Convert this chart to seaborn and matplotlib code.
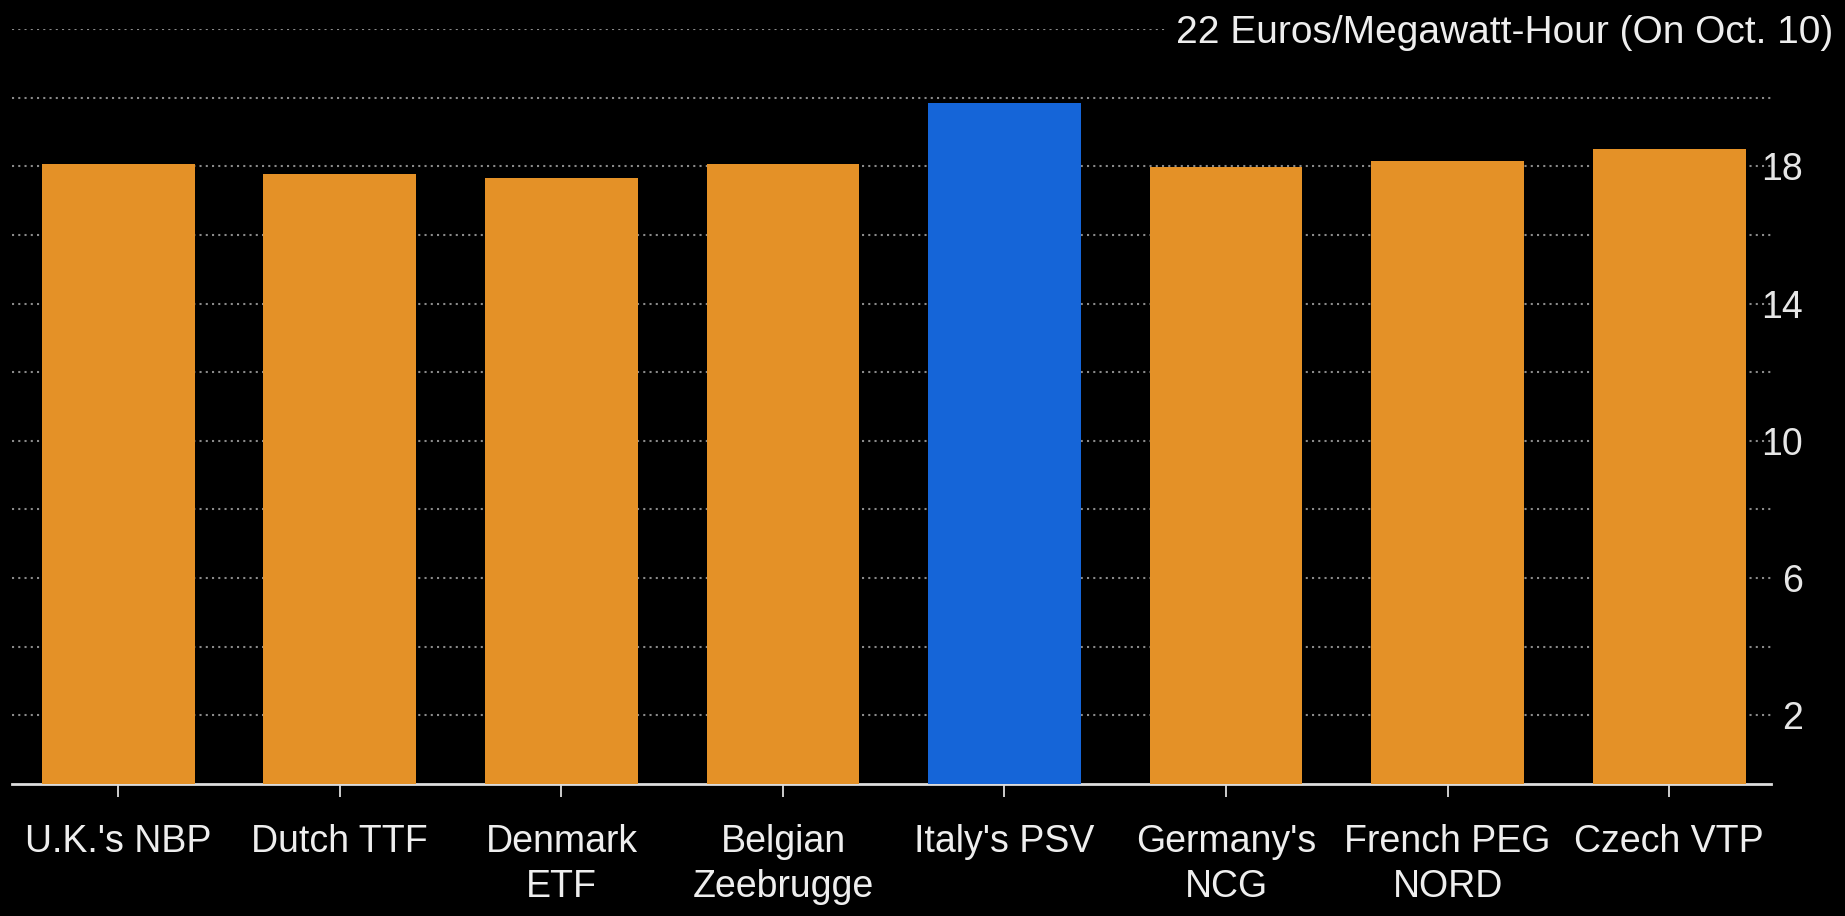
import matplotlib
matplotlib.use('Agg')
import matplotlib.pyplot as plt
import pandas as pd
import seaborn as sns

# gas hub prices, euros per MWh on Oct. 10
hubs = ["U.K.'s NBP", "Dutch TTF", "Denmark\nETF", "Belgian\nZeebrugge",
        "Italy's PSV", "Germany's\nNCG", "French PEG\nNORD", "Czech VTP"]
prices = [18.08, 17.78, 17.65, 18.07, 19.86, 17.98, 18.15, 18.5]
bar_colors = ['#E49127', '#E49127', '#E49127', '#E49127',
              '#1565D8', '#E49127', '#E49127', '#E49127']
ytick_vals = [2, 4, 6, 8, 10, 12, 14, 16, 18, 20, 22]
ytick_text = ['2', '', '6', '', '10', '', '14', '', '18', '', '']
unit_label = '22 Euros/Megawatt-Hour (On Oct. 10)'

sns.set_style('dark')
plt.rcParams['font.family'] = ['Liberation Sans', 'DejaVu Sans']
plt.rcParams['font.size'] = 27

df = pd.DataFrame({'hub': hubs, 'price': prices})

fig = plt.figure(figsize=(18.45, 9.16), dpi=100, facecolor='black')
ax = fig.add_axes([0.0065, 0.1444, 0.9534, 0.968 - 0.1444])
ax.set_facecolor('black')

sns.barplot(data=df, x='hub', y='price', hue='hub', palette=bar_colors,
            width=0.69, legend=False, ax=ax, saturation=1, zorder=3,
            edgecolor='none', linewidth=0)

ax.set_xlim(-0.48, 7.46)
ax.set_ylim(0, 22)
ax.set_xlabel('')
ax.set_ylabel('')

ax.set_yticks(ytick_vals)
ax.set_yticklabels(ytick_text)
ax.yaxis.tick_right()
for lbl in ax.get_yticklabels():
    lbl.set_horizontalalignment('right')
ax.tick_params(axis='y', length=0, pad=23, colors='#e6e6e6', labelsize=27)
ax.tick_params(axis='x', length=9, width=1.3, color='#dddddd', direction='out',
               pad=20, labelcolor='#eeeeee', labelsize=27, bottom=True)
for lbl in ax.get_xticklabels():
    lbl.set_linespacing(1.33)

ax.grid(axis='y', color='#8a8a8a', linestyle=(0, (1, 2)), linewidth=1.5, zorder=0)
ax.grid(axis='x', visible=False)

for side in ['top', 'left', 'right']:
    ax.spines[side].set_visible(False)
ax.spines['bottom'].set_color('#dddddd')
ax.spines['bottom'].set_linewidth(2)

ax.text(1.0353, 1.0, unit_label, transform=ax.transAxes, ha='right',
        va='center_baseline', color='#eeeeee', fontsize=28,
        bbox=dict(facecolor='black', edgecolor='none', pad=8), zorder=5)

fig.savefig('out.png', dpi=100, facecolor='black')
